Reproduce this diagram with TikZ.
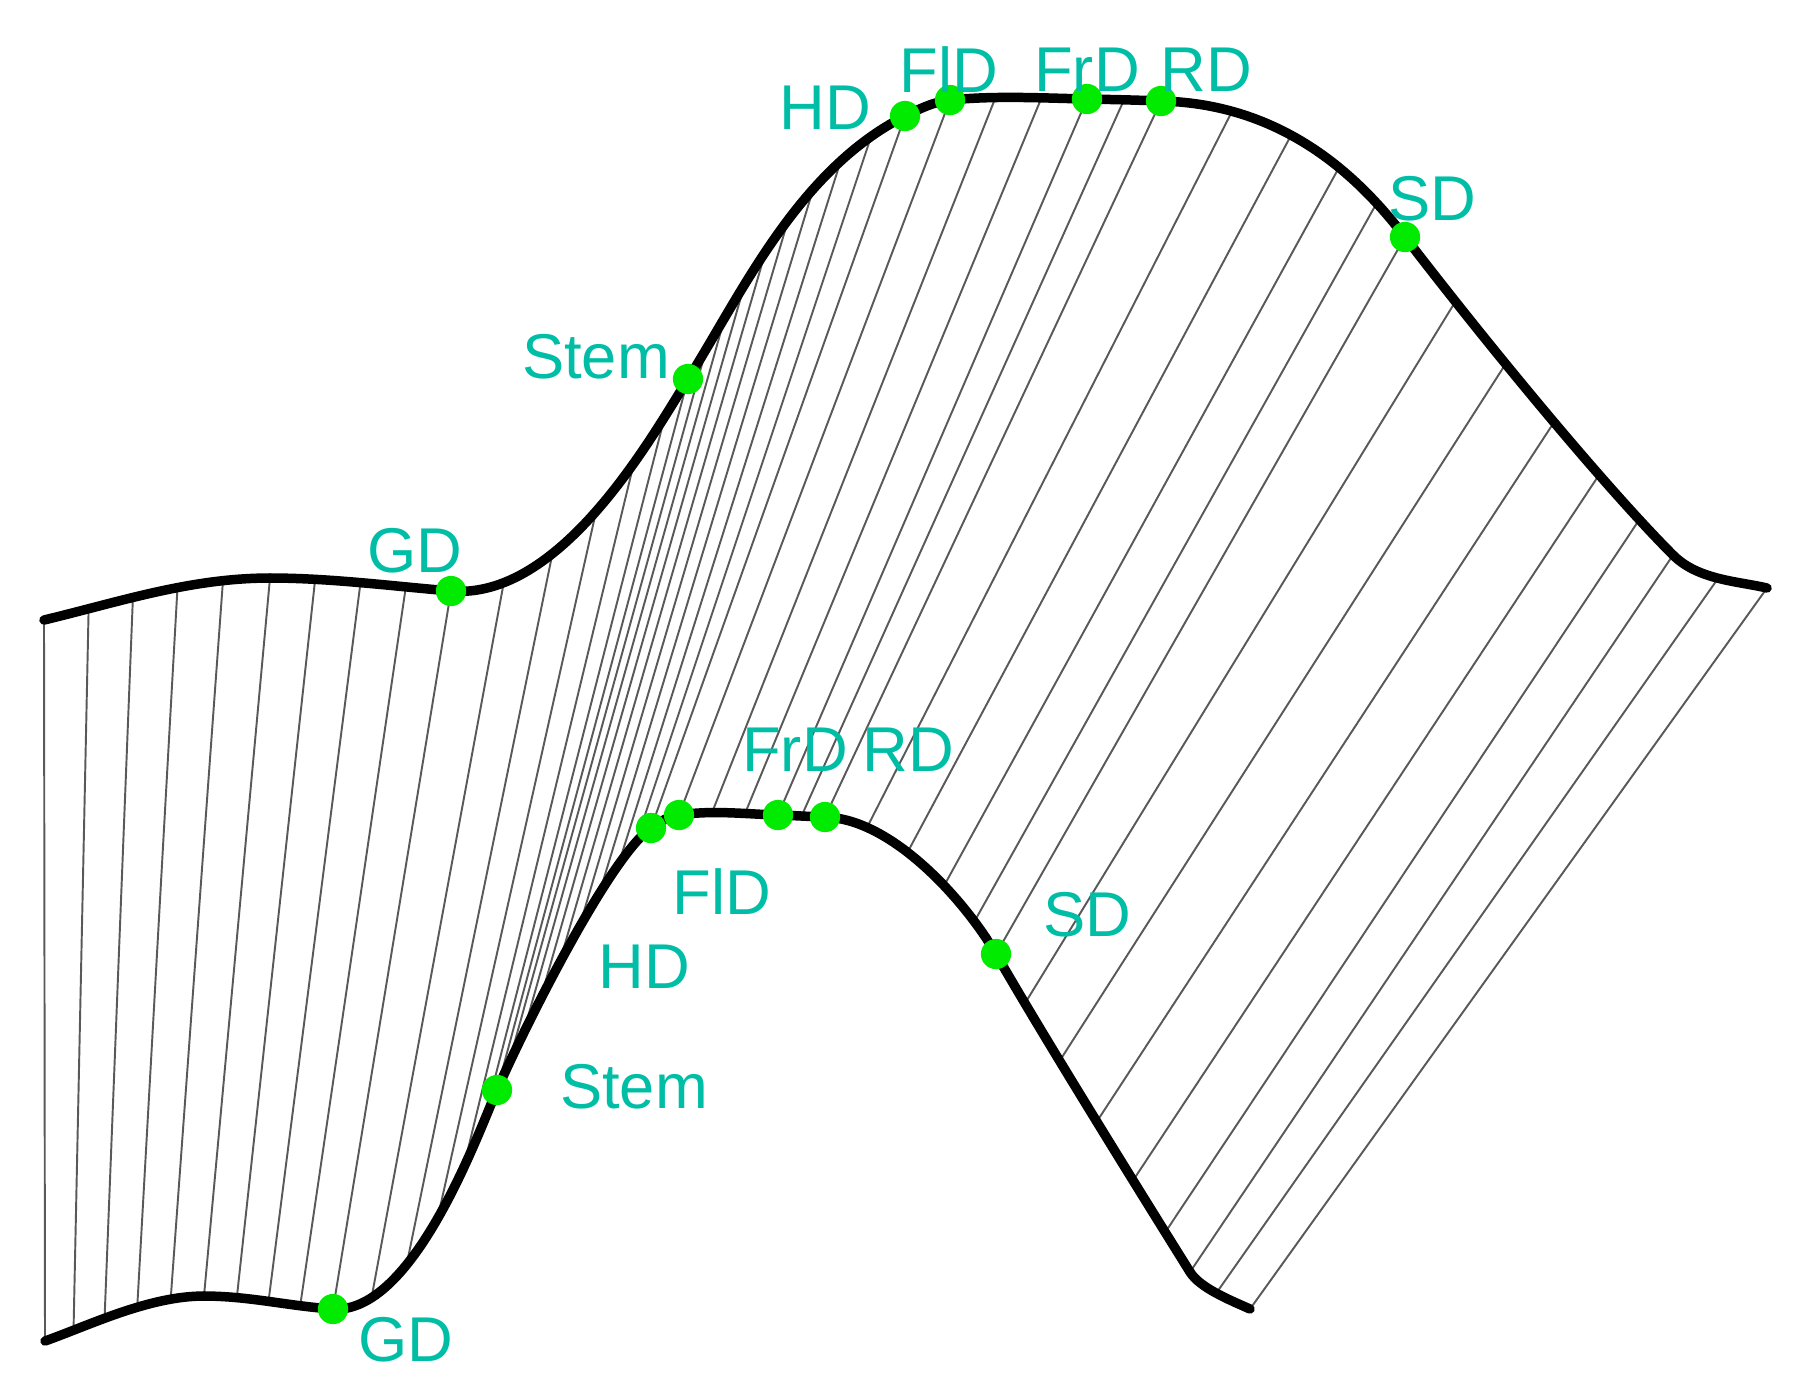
\documentclass[tikz,border=0pt]{standalone}
\usepackage{fontspec}
\setmainfont{Liberation Sans}
\pgfdeclarelayer{bg}
\pgfsetlayers{bg,main}
\definecolor{dotgreen}{RGB}{0,235,0}
\definecolor{labteal}{RGB}{0,190,165}
\tikzset{
  profile/.style={line width=2.7pt, line cap=round},
  ruling/.style={black!65, line width=0.55pt},
  landmark/.style={circle, fill=dotgreen, inner sep=0pt, minimum size=8.6pt},
  lab/.style={text=labteal, font=\fontsize{18}{20}\selectfont, inner sep=0pt},
}
% one piece of both profiles with the ruling lines between them
% #1,#2 top ends  #3,#4 top controls  #5,#6 bottom ends  #7,#8 bottom controls  #9 gaps
\newcommand\profilepart[9]{%
  \draw[profile] (#1) .. controls +(#3) and +(#4) .. (#2);
  \draw[profile] (#5) .. controls +(#7) and +(#8) .. (#6);
  \begin{pgfonlayer}{bg}
  \foreach \k in {1,...,#9}{
    \pgfmathsetmacro\tpos{\k/#9}
    \path (#1) .. controls +(#3) and +(#4) .. (#2) coordinate[pos=\tpos] (up);
    \path (#5) .. controls +(#7) and +(#8) .. (#6) coordinate[pos=\tpos] (dn);
    \draw[ruling] (up) -- (dn);
  }
  \end{pgfonlayer}}
\begin{document}
\begin{tikzpicture}[x=0.01cm, y=-0.01cm]
\useasboundingbox (0,0) rectangle (1798,1396);
% top profile
\coordinate (t0) at (44,620);
\coordinate (tk0) at (270,578);
\coordinate (tGD) at (451,591);
\coordinate (tStem) at (688,379);
\coordinate (tHD) at (905,116);
\coordinate (tFlD) at (950,100);
\coordinate (tFrD) at (1087,99);
\coordinate (tRD) at (1161,101);
\coordinate (tSD) at (1405,237);
\coordinate (tk7) at (1673,555);
\coordinate (tEnd) at (1767,588);
% bottom profile
\coordinate (b0) at (45,1341);
\coordinate (bk0) at (204,1296);
\coordinate (bGD) at (333,1309);
\coordinate (bStem) at (497,1090);
\coordinate (bHD) at (651,828);
\coordinate (bFlD) at (679,815);
\coordinate (bFrD) at (778,815);
\coordinate (bRD) at (825,817);
\coordinate (bSD) at (996,954);
\coordinate (bk7) at (1190,1272);
\coordinate (bEnd) at (1250,1309);

\begin{pgfonlayer}{bg}
\draw[ruling] (t0) -- (b0);
\end{pgfonlayer}
\profilepart{t0}{tk0}{75,-18}{-80,0}{b0}{bk0}{45,-16}{-55,0}{5}
\profilepart{tk0}{tGD}{60,0}{-60,-5}{bk0}{bGD}{45,0}{-45,-3}{4}
\profilepart{tGD}{tStem}{109,9}{-38,61}{bGD}{bStem}{80,5}{-20,46}{6}
\profilepart{tStem}{tHD}{54,-86}{-107,54}{bStem}{bHD}{28,-64}{-41,28}{9}
\profilepart{tHD}{tFlD}{15,-7.5}{-15,1.5}{bHD}{bFlD}{12,-8}{-12,2}{1}
\profilepart{tFlD}{tFrD}{45,-4.5}{-45,-1}{bFlD}{bFrD}{33,-5}{-33,-1}{3}
\profilepart{tFrD}{tRD}{25,0.5}{-25,-1}{bFrD}{bRD}{16,0.5}{-16,-0.5}{2}
\profilepart{tRD}{tSD}{129,3}{-40,-52}{bRD}{bSD}{70,2}{-27.5,-48}{5}
\profilepart{tSD}{tk7}{100,130}{-60,-60}{bSD}{bk7}{50,87}{-40,-64}{6}
\profilepart{tk7}{tEnd}{25,25}{-30,-7}{bk7}{bEnd}{10,16}{-20,-9}{2}

% landmarks
\foreach \p in {GD,Stem,HD,FlD,FrD,RD,SD}{
  \node[landmark] (dot-t\p) at (t\p) {};
  \node[landmark] (dot-b\p) at (b\p) {};
}
\node[lab] (lab-tGD) at (415,551) {GD};
\node[lab] (lab-tStem) at (596,357) {Stem};
\node[lab] (lab-tHD) at (825,108) {HD};
\node[lab] (lab-tFlD) at (949,70) {FlD};
\node[lab] (lab-tFrD) at (1087,70) {FrD};
\node[lab] (lab-tRD) at (1206,70) {RD};
\node[lab] (lab-tSD) at (1432,199) {SD};
\node[lab] (lab-bGD) at (406,1340) {GD};
\node[lab] (lab-bStem) at (634,1087) {Stem};
\node[lab] (lab-bHD) at (644,967) {HD};
\node[lab] (lab-bFlD) at (722,892) {FlD};
\node[lab] (lab-bFrD) at (795,750) {FrD};
\node[lab] (lab-bRD) at (908,750) {RD};
\node[lab] (lab-bSD) at (1087,915) {SD};
\end{tikzpicture}
\end{document}
